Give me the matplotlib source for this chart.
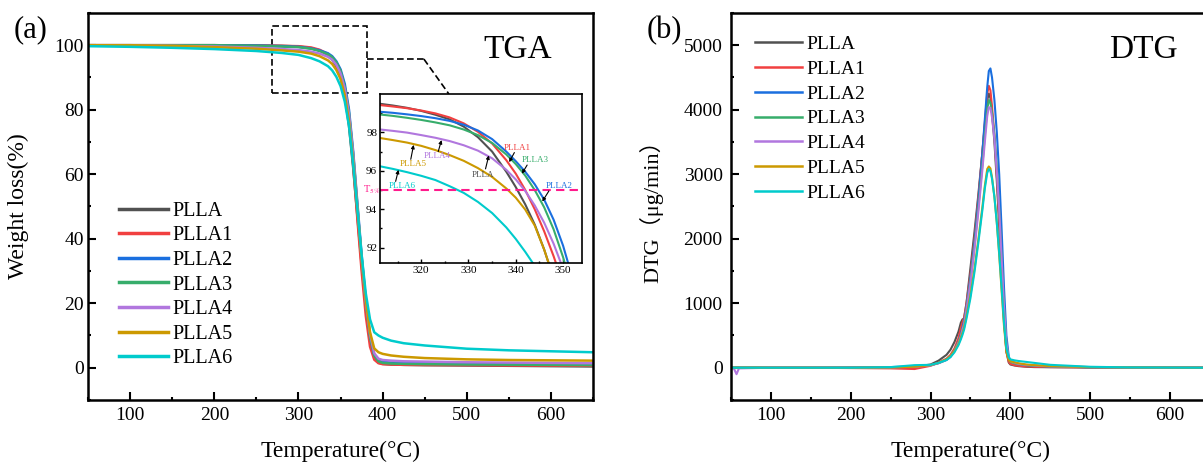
import matplotlib
matplotlib.use('Agg')
import matplotlib.pyplot as plt
from matplotlib.ticker import MultipleLocator, FixedLocator
from matplotlib.patches import Rectangle

plt.rcParams['font.family'] = ['Liberation Serif', 'Noto Sans CJK SC']
plt.rcParams['mathtext.fontset'] = 'stix'

names = ['PLLA', 'PLLA1', 'PLLA2', 'PLLA3', 'PLLA4', 'PLLA5', 'PLLA6']
colors = ['#515151', '#F14040', '#1A6FDF', '#37AD6B', '#B177DE', '#CC9900', '#00CBCC']

# TGA (weight %) vs temperature
tga_temp = [50, 100, 150, 200, 250, 280, 300, 315, 325, 335, 340, 345, 350, 355, 360,
            365, 370, 375, 380, 385, 390, 395, 400, 410, 425, 450, 500, 550, 600, 650]
tga_plla = [100, 100, 100, 100, 99.9, 99.8, 99.6, 99.1, 98.4, 97.0, 95.6, 93.5, 90.0, 84.5, 75,
            62, 47, 32, 19, 9, 3.5, 1.6, 1.2, 1.0, 0.9, 0.8, 0.7, 0.6, 0.5, 0.4]
tga_plla1 = [100, 100, 100, 100, 99.9, 99.8, 99.7, 99.3, 98.6, 97.3, 96.2, 94.3, 91.2, 86, 77,
             63, 46, 30, 16, 6.5, 2.5, 1.4, 1.1, 1.0, 0.9, 0.85, 0.8, 0.7, 0.65, 0.6]
tga_plla2 = [100, 100, 100, 100, 99.9, 99.7, 99.5, 99.0, 98.4, 97.5, 96.6, 95.0, 92.5, 88, 80,
             67, 51, 35, 21, 10, 4, 2.2, 1.8, 1.6, 1.5, 1.4, 1.3, 1.2, 1.1, 1.0]
tga_plla3 = [100, 100, 100, 100, 99.8, 99.6, 99.4, 98.9, 98.2, 97.2, 96.3, 94.7, 92, 87, 79,
             66, 50, 34, 20, 9.5, 3.8, 2.0, 1.5, 1.3, 1.2, 1.1, 1.0, 0.95, 0.9, 0.8]
tga_plla4 = [100, 100, 99.8, 99.6, 99.2, 98.8, 98.5, 98.0, 97.4, 96.4, 95.5, 93.9, 91.2, 86.5, 78.5,
             66, 50, 34, 20.5, 10.5, 4.5, 2.8, 2.4, 2.2, 2.0, 1.9, 1.7, 1.6, 1.5, 1.4]
tga_plla5 = [100, 100, 99.8, 99.4, 98.9, 98.4, 98.0, 97.4, 96.6, 95.3, 94.2, 92.3, 89.5, 84.5, 76.5,
             64, 49, 34, 21, 11, 6, 4.8, 4.3, 3.8, 3.4, 3.0, 2.6, 2.4, 2.3, 2.2]
tga_plla6 = [99.7, 99.5, 99.2, 98.8, 98.2, 97.6, 97.0, 96.0, 95.0, 93.5, 92.2, 90.2, 87.3, 82.5, 75,
             63, 49, 35, 23, 15, 11, 10, 9.3, 8.4, 7.6, 6.9, 5.9, 5.4, 5.1, 4.8]

# zoomed inset values
zoom_temp = [311, 314, 317, 320, 323, 326, 329, 332, 335, 338, 340, 342, 344, 346, 348, 350, 352]
zoom_plla = [99.5, 99.4, 99.28, 99.12, 98.92, 98.68, 98.3, 97.75, 97.0, 95.95, 95.15, 94.25,
             93.2, 91.9, 90.4, 88.7, 86.8]
zoom_plla1 = [99.43, 99.35, 99.26, 99.14, 98.99, 98.78, 98.47, 98.03, 97.42, 96.55, 95.85, 95.0,
              94.0, 92.85, 91.55, 90.1, 88.5]
zoom_plla2 = [99.08, 99.02, 98.94, 98.85, 98.74, 98.6, 98.4, 98.1, 97.65, 97.0, 96.5, 95.95,
              95.3, 94.5, 93.45, 92.1, 90.4]
zoom_plla3 = [98.94, 98.86, 98.76, 98.65, 98.52, 98.37, 98.15, 97.86, 97.45, 96.85, 96.35, 95.75,
              95.0, 94.1, 92.95, 91.5, 89.8]
zoom_plla4 = [98.16, 98.08, 97.99, 97.86, 97.72, 97.55, 97.33, 97.05, 96.65, 96.05, 95.55, 94.95,
              94.2, 93.3, 92.2, 90.9, 89.4]
zoom_plla5 = [97.72, 97.6, 97.47, 97.3, 97.08, 96.82, 96.52, 96.14, 95.68, 95.08, 94.6, 93.98,
              93.15, 91.9, 90.4, 88.6, 86.6]
zoom_plla6 = [96.25, 96.1, 95.93, 95.74, 95.52, 95.2, 94.85, 94.38, 93.8, 93.05, 92.45, 91.78,
              91.05, 90.2, 89.2, 88.0, 86.7]
t5_level = 95

# DTG (ug/min) vs temperature
dtg_temp = [50, 54, 57, 60, 100, 150, 200, 250, 280, 300, 310, 320, 325, 330, 335, 338, 340, 342,
            345, 350, 355, 360, 365, 368, 371, 373, 375, 377, 380, 383, 386, 389, 392, 395, 398,
            400, 405, 410, 420, 430, 450, 500, 550, 600, 650, 700]
dtg_plla = [0, 0, 0, 0, 0, 0, 0,
            5, 15, 50, 110, 200, 280, 400, 560, 700, 750, 760, 1000, 1550, 2100, 2700, 3350, 3750,
            4150, 4250, 4180, 3950, 3500, 2900, 2200, 1450, 750, 250, 80, 50, 35, 25, 15, 10, 8, 3,
            0, 0, 0, 0]
dtg_plla1 = [0, 0, 0, 0, 0, 0, -5,
             -10, -20, 30, 80, 140, 200, 300, 460, 620, 700, 780, 1000, 1450, 2000, 2650, 3350,
             3800, 4250, 4370, 4300, 4050, 3600, 3000, 2300, 1500, 800, 250, 90, 60, 40, 30, 20,
             15, 10, 5, 2, 0, 0, 0]
dtg_plla2 = [0, 0, 0, 0, 0, 0, 5,
             10, 20, 40, 70, 120, 170, 260, 400, 520, 620, 720, 950, 1400, 1950, 2600, 3350, 3850,
             4350, 4600, 4640, 4500, 4150, 3650, 3000, 2150, 1250, 500, 170, 110, 80, 60, 40, 30,
             20, 8, 4, 2, 0, 0]
dtg_plla3 = [0, 0, 0, 0, 0, 0, 0,
             5, 20, 40, 75, 130, 180, 270, 400, 500, 600, 680, 920, 1350, 1880, 2500, 3150, 3600,
             4000, 4150, 4110, 3950, 3600, 3100, 2450, 1700, 950, 380, 130, 90, 70, 55, 40, 30,
             20, 8, 3, 0, 0, 0]
dtg_plla4 = [0, -20, -100, -10, 0, 0, 0,
             5, 15, 35, 70, 125, 175, 260, 390, 490, 590, 670, 900, 1320, 1830, 2430, 3080, 3500,
             3900, 4040, 4030, 3880, 3550, 3050, 2450, 1700, 950, 380, 140, 100, 80, 60, 45, 35,
             22, 10, 4, 0, 0, 0]
dtg_plla5 = [0, 0, 0, 0, 0, 0, 0,
             5, 15, 40, 75, 130, 180, 260, 370, 470, 540, 620, 800, 1130, 1530, 2000, 2500, 2820,
             3080, 3120, 3090, 2950, 2650, 2250, 1750, 1200, 650, 250, 120, 100, 85, 70, 50, 40,
             25, 10, 5, 2, 0, 0]
dtg_plla6 = [0, 0, 0, 0, 0, 0, 0,
             10, 40, 45, 75, 120, 165, 240, 350, 440, 510, 590, 760, 1080, 1480, 1950, 2450, 2780,
             3020, 3080, 3050, 2930, 2650, 2250, 1780, 1250, 700, 300, 160, 130, 115, 105, 90, 75,
             45, 15, 5, 2, 0, 0]

tga_all = [tga_plla, tga_plla1, tga_plla2, tga_plla3, tga_plla4, tga_plla5, tga_plla6]
zoom_all = [zoom_plla, zoom_plla1, zoom_plla2, zoom_plla3, zoom_plla4, zoom_plla5, zoom_plla6]
dtg_all = [dtg_plla, dtg_plla1, dtg_plla2, dtg_plla3, dtg_plla4, dtg_plla5, dtg_plla6]


def style_axis(ax, lw=1.8):
    for s in ax.spines.values():
        s.set_linewidth(lw)
    ax.tick_params(which='major', direction='in', length=5.5, width=1.5, labelsize=14, pad=5)
    ax.tick_params(which='minor', direction='in', length=2.5, width=1.5)
    ax.tick_params(top=False, right=False)


fig = plt.figure(figsize=(12.03, 4.63), dpi=100)

# ---- (a) TGA ----
ax1 = fig.add_axes([0.0732, 0.1361, 0.4198, 0.8359])
for y, c, n in zip(tga_all, colors, names):
    ax1.plot(tga_temp, y, color=c, lw=1.8, label=n)
ax1.set_xlim(50, 650)
ax1.set_ylim(-10, 110)
ax1.xaxis.set_major_locator(MultipleLocator(100))
ax1.xaxis.set_minor_locator(MultipleLocator(50))
ax1.yaxis.set_major_locator(MultipleLocator(20))
ax1.yaxis.set_minor_locator(MultipleLocator(10))
style_axis(ax1)
ax1.tick_params(axis='y', pad=3)
ax1.set_xlabel('Temperature(°C)', fontsize=17)
ax1.set_ylabel('Weight loss(%)', fontsize=17)
ax1.xaxis.set_label_coords(0.5, -0.105)
ax1.yaxis.set_label_coords(-0.117, 0.5)
leg1 = ax1.legend(loc='upper left', bbox_to_anchor=(0.062, 0.512), frameon=False, fontsize=14.5,
                  handlelength=2.4, handletextpad=0.25, labelspacing=0.27, borderpad=0,
                  borderaxespad=0)
for h in leg1.get_lines():
    h.set_linewidth(2.5)
ax1.text(0.851, 0.905, 'TGA', transform=ax1.transAxes, fontsize=24, ha='center', va='center')
fig.text(0.025, 0.935, '(a)', fontsize=22, ha='center', va='center')

# dashed box and connector to the inset
ax1.add_patch(Rectangle((268, 85.3), 113.6, 20.7, fill=False, ls=(0, (4, 2)), lw=1.2, color='k'))
ax1.plot([381.6, 449], [95.7, 95.7], color='k', ls=(0, (4, 2)), lw=1.2)
ax1.plot([449, 478.6], [95.7, 84.9], color='k', ls=(0, (4, 2)), lw=1.2, clip_on=False)

# inset
axin = fig.add_axes([0.3159, 0.432, 0.1679, 0.365])
for y, c in zip(zoom_all, colors):
    axin.plot(zoom_temp, y, color=c, lw=1.5)
axin.set_xlim(311.3, 354)
axin.set_ylim(91.2, 100)
axin.axhline(t5_level, color='#FF1A8C', ls=(0, (4, 2.5)), lw=1.5)
axin.xaxis.set_major_locator(MultipleLocator(10))
axin.xaxis.set_minor_locator(MultipleLocator(5))
axin.yaxis.set_major_locator(FixedLocator([92, 94, 96, 98]))
axin.yaxis.set_minor_locator(FixedLocator([93, 95, 97, 99]))
for s in axin.spines.values():
    s.set_linewidth(1.2)
axin.tick_params(which='major', direction='in', length=3, width=1, labelsize=8, pad=2)
axin.tick_params(which='minor', direction='in', length=1.5, width=1)
axin.text(311.4, t5_level, r'T$_{5\%}$', color='#FF1A8C', fontsize=7.5, ha='right',
          va='center', clip_on=False)

inset_labels = [
    ('PLLA6', 6, (313.2, 95.2), (314.6, 95.45), (315.2, 96.05)),
    ('PLLA5', 5, (315.4, 96.35), (317.8, 96.6), (318.4, 97.35)),
    ('PLLA4', 4, (320.5, 96.75), (323.6, 97.0), (324.3, 97.6)),
    ('PLLA', 0, (330.6, 95.8), (333.6, 96.1), (334.3, 96.8)),
    ('PLLA1', 1, (337.4, 97.2), (339.7, 96.95), (338.6, 96.45)),
    ('PLLA3', 3, (341.2, 96.57), (342.4, 96.3), (341.3, 95.85)),
    ('PLLA2', 2, (346.3, 95.2), (347.0, 94.95), (345.6, 94.4)),
]
for lab, ci, tpos, a0, a1 in inset_labels:
    axin.text(tpos[0], tpos[1], lab, color=colors[ci], fontsize=6.5, ha='left', va='center')
    axin.annotate('', xy=a1, xytext=a0,
                  arrowprops=dict(arrowstyle='-|>', color='k', lw=0.8, mutation_scale=5,
                                  shrinkA=0, shrinkB=0))

# ---- (b) DTG ----
ax2 = fig.add_axes([0.6076, 0.1361, 0.3982, 0.8359])
for y, c, n in zip(dtg_all, colors, names):
    ax2.plot(dtg_temp, y, color=c, lw=1.5, label=n)
ax2.set_xlim(50, 650)
ax2.set_ylim(-500, 5500)
ax2.xaxis.set_major_locator(MultipleLocator(100))
ax2.xaxis.set_minor_locator(MultipleLocator(50))
ax2.yaxis.set_major_locator(MultipleLocator(1000))
ax2.yaxis.set_minor_locator(MultipleLocator(500))
style_axis(ax2)
ax2.spines['right'].set_visible(False)
ax2.tick_params(axis='y', pad=6)
ax2.set_xlabel('Temperature(°C)', fontsize=17)
ax2.set_ylabel('DTG（μg/min）', fontsize=16)
ax2.xaxis.set_label_coords(0.5, -0.105)
ax2.yaxis.set_label_coords(-0.142, 0.5)
leg2 = ax2.legend(loc='upper left', bbox_to_anchor=(0.05, 0.942), frameon=False, fontsize=14,
                  handlelength=2.4, handletextpad=0.25, labelspacing=0.37, borderpad=0,
                  borderaxespad=0)
for h in leg2.get_lines():
    h.set_linewidth(1.8)
ax2.text(0.862, 0.905, 'DTG', transform=ax2.transAxes, fontsize=24, ha='center', va='center')
fig.text(0.552, 0.935, '(b)', fontsize=22, ha='center', va='center')

fig.savefig('out.png', dpi=100)
